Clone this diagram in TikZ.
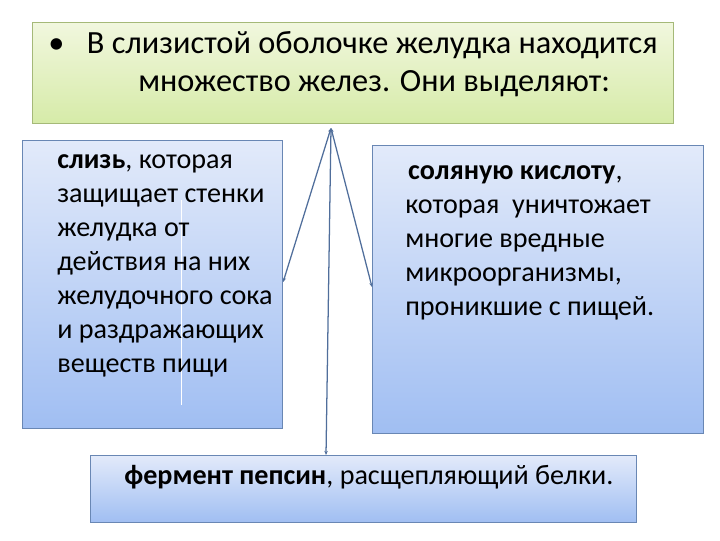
\documentclass[tikz,border=0pt]{standalone}
\usepackage{fontspec}
\setmainfont{Carlito}
\usetikzlibrary{arrows.meta}
\definecolor{grtop}{RGB}{241,247,222}
\definecolor{grbot}{RGB}{214,235,168}
\definecolor{grline}{RGB}{165,185,120}
\definecolor{bltop}{RGB}{226,234,250}
\definecolor{blbot}{RGB}{160,190,242}
\definecolor{blline}{RGB}{105,135,180}
\definecolor{arr}{RGB}{80,110,155}
\newcommand{\px}{0.025cm}

\begin{document}
\begin{tikzpicture}[x=0.025cm, y=-0.025cm,
    greenbox/.style={draw=grline, line width=0.8pt, top color=grtop, bottom color=grbot,
        anchor=north west, inner sep=0pt},
    bluebox/.style={draw=blline, line width=0.8pt, top color=bltop, bottom color=blbot,
        anchor=north west, inner sep=0pt},
    txt/.style={anchor=north west, align=left, inner sep=0pt,
        font=\fontsize{20}{24.2}\selectfont},
    link/.style={draw=arr, line width=0.9pt, {Stealth[length=3pt,width=2.5pt]}-{Stealth[length=3pt,width=2.5pt]}}]
    \useasboundingbox (0,0) rectangle (720,540);

    % boxes
    \node[greenbox, minimum width=641*\px, minimum height=101*\px] (top) at (32,22) {};
    \node[bluebox, minimum width=260*\px, minimum height=288*\px] (slime) at (22,140) {};
    \node[bluebox, minimum width=331*\px, minimum height=288*\px] (acid) at (372,145) {};
    \node[bluebox, minimum width=546*\px, minimum height=67*\px] (pepsin) at (90,455) {};
    \draw[white, line width=0.5pt] (181,200) -- (181,405);

    % texts
    \node[txt, font=\fontsize{23}{27.4}\selectfont] (toptext) at (48,31)
        {\textbullet\hspace{16pt}В слизистой оболочке желудка находится\\
         \hspace{64pt}множество желез. Они выделяют:};
    \node[txt] (slimetext) at (57,154)
        {\textbf{слизь}, которая\\ защищает стенки\\ желудка от\\ действия на них\\
         желудочного сока\\ и раздражающих\\ веществ пищи};
    \node[txt] (acidtext) at (405,165)
        {\hspace{2pt}\textbf{соляную кислоту},\\ которая~ уничтожает\\ многие вредные\\
         микроорганизмы,\\ проникшие с пищей.};
    \node[txt] (pepsintext) at (124,465)
        {\textbf{фермент пепсин}, расщепляющий белки.};

    % arrows
    \coordinate (apex) at (331,128);
    \draw[link] (apex) -- (slime.east |- 0,282);
    \draw[link] (apex) -- (acid.west |- 0,287);
    \draw[link] (apex) -- (pepsin.north -| 326,0);
\end{tikzpicture}
\end{document}
